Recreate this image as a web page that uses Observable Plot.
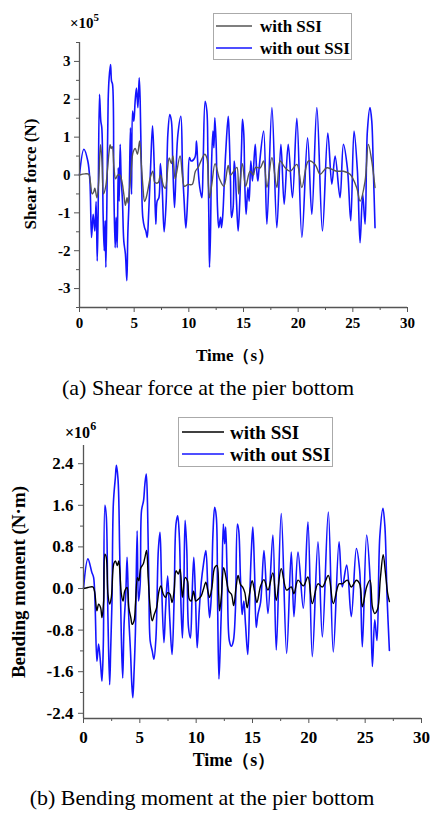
<!DOCTYPE html>
<html><head><meta charset="utf-8">
<script src="https://cdn.jsdelivr.net/npm/d3@7"></script>
<script src="https://cdn.jsdelivr.net/npm/@observablehq/plot@0.6"></script>
<style>
body{margin:0;background:#fff;}
#root{position:relative;width:432px;height:814px;overflow:hidden;font-family:"Liberation Serif","Times New Roman",serif;color:#000;}
.abs{position:absolute;white-space:nowrap;line-height:1;}
.ctr{transform:translate(-50%,-50%);}
.rot{transform:translate(-50%,-50%) rotate(-90deg);}
svg.plt{position:absolute;left:0;}
</style></head><body><div id="root"></div>
<script>
// ---------- Panel (a): shear force (×10^5 N) ----------
const tBlueA=[0,0.4,0.76,0.95,1.1,1.25,1.4,1.52,1.62,1.7,1.83,1.95,2.04,2.16,2.26,2.35,2.41,2.5,2.62,2.71,2.84,2.93,3.02,3.14,3.26,3.35,3.45,3.54,3.63,3.72,3.81,3.93,4.05,4.2,4.33,4.42,4.54,4.66,4.76,4.85,4.97,5.09,5.21,5.34,5.46,5.55,5.67,5.79,5.95,6.07,6.19,6.31,6.5,6.68,6.83,6.98,7.1,7.26,7.4,7.56,7.74,7.93,8.08,8.26,8.41,8.54,8.69,8.84,9.0,9.27,9.42,9.57,9.73,9.91,10.06,10.21,10.55,10.7,10.82,11.0,11.19,11.3,11.49,11.65,11.74,11.83,11.89,11.98,12.07,12.2,12.29,12.38,12.5,12.62,12.74,12.9,12.99,13.11,13.26,13.38,13.6,13.69,13.81,13.9,14.05,14.15,14.24,14.36,14.51,14.66,14.82,14.91,15.03,15.12,15.24,15.4,15.52,15.67,15.82,16.07,16.19,16.31,16.43,16.84,17.14,17.6,18.05,18.42,18.72,19.09,19.48,19.88,20.34,20.86,21.25,21.71,22.22,22.71,23.08,23.38,23.83,24.14,24.5,24.81,25.11,25.42,25.66,25.9,26.12,26.33,26.57,26.73,26.88,27.03];
const vBlueA=[0,0.68,0.37,-0.16,-1.65,-1.04,-1.48,-0.7,-2.27,-1.1,2.13,1.42,1.25,-1.04,-2.0,-1.2,-2.44,-0.86,1.95,2.57,2.92,2.48,2.4,-0.33,-1.92,-1.12,-1.92,0.19,-0.69,0.81,-0.07,-0.69,-1.74,-2.09,-2.79,-1.56,-0.6,1.25,-0.51,1.69,1.42,1.95,2.3,1.78,2.57,1.95,0.02,-1.12,-1.39,-1.48,-1.65,-1.12,0.19,1.3,0.28,-1.3,-0.69,-0.6,0.3,-0.33,-1.5,-0.69,1.07,1.6,1.42,0.19,-0.86,0.19,1.07,1.55,0.19,-0.69,-1.4,-0.51,0.46,0.37,0.46,0.9,0.28,-0.33,-0.6,0.19,1.95,1.69,0.63,-1.12,-2.44,-1.56,0.19,1.16,0.72,1.51,0.81,-0.86,-1.39,-1.12,-1.39,-1.04,-0.07,0.63,1.55,1.07,-0.16,-1.12,-0.86,0.37,0.1,-0.69,-1.48,-0.69,0.72,1.47,1.07,-0.25,-1.04,-0.33,-0.69,0.37,-0.16,0.81,0.19,-0.16,0.19,1.16,-1.3,1.78,-1.39,0.81,-0.77,0.81,-0.6,1.5,-1.65,0.98,-1.04,1.78,-1.48,1.11,-0.24,0.5,-0.6,0.81,0.19,-1.21,1.16,0.1,-1.79,-0.5,-1.3,1.16,1.78,1.43,0.1,-1.39];
const tGrayA=[0,0.5,0.85,1.0,1.16,1.3,1.4,1.6,1.75,1.92,2.05,2.2,2.4,2.55,2.7,2.8,2.9,3.0,3.15,3.3,3.5,3.7,3.9,4.05,4.2,4.35,4.45,4.6,4.75,4.9,5.1,5.3,5.5,5.65,5.8,5.95,6.1,6.25,6.45,6.7,6.9,7.2,7.4,7.7,7.85,8.2,8.4,8.55,8.75,9.2,9.6,9.9,10.3,10.6,10.85,11.45,11.65,11.8,11.9,12.1,12.4,12.8,13.2,13.6,13.8,14.1,14.4,14.56,14.9,15.2,15.6,15.9,16.1,16.53,16.84,17.14,17.6,18.05,18.35,18.81,19.27,19.88,20.34,20.94,21.55,22.01,22.62,23.53,24.14,24.75,25.35,25.66,26.12,26.42,26.73,27.03];
const vGrayA=[0,0.03,0.02,-0.2,-0.5,-0.45,-0.35,-0.6,-0.2,0.8,0.4,-0.5,-0.3,0.1,0.6,0.8,0.7,0.75,0.2,-0.1,0.0,0.0,-0.2,-0.5,-0.8,-0.6,-0.75,-0.3,0.2,0.6,0.7,0.55,0.9,0.3,-0.3,-0.7,-0.6,-0.4,-0.1,0.1,-0.2,-0.2,0.0,-0.3,-0.35,0.45,0.3,0.5,-0.1,0.5,-0.3,-0.25,-0.25,0.1,0.2,0.55,0.45,-0.3,-0.6,-0.25,0.3,-0.1,-0.3,0.25,0.0,0.1,0.2,-0.5,0.3,-0.3,0.1,0.0,0.2,0.19,0.37,-0.33,0.46,-0.33,0.37,0.19,0.1,0.28,-0.33,0.37,0.28,0.02,0.19,0.1,0.1,0.02,-0.33,-0.69,-0.16,0.81,0.37,-0.33];
const yTicksA=[-3,-2,-1,0,1,2,3];
const yMinorA=[-3.5,-2.5,-1.5,-0.5,0.5,1.5,2.5,3.5];

// ---------- Panel (b): bending moment (×10^6 N·m) ----------
const tBlueB=[0,0.39,0.74,0.9,1.19,1.34,1.52,1.64,1.76,1.9,2.02,2.17,2.32,2.41,2.53,2.65,2.83,2.92,3.07,3.21,3.36,3.48,3.6,3.75,3.87,4.02,4.17,4.29,4.38,4.49,4.61,4.76,4.88,5.03,5.15,5.33,5.45,5.57,5.68,5.8,5.92,6.1,6.25,6.43,6.64,6.79,6.93,7.14,7.29,7.47,7.65,7.86,8.04,8.21,8.36,8.51,8.66,8.78,8.9,9.02,9.17,9.32,9.49,9.64,9.79,9.94,10.09,10.27,10.45,10.65,10.86,11.04,11.19,11.34,11.49,11.64,11.79,11.9,12.02,12.14,12.26,12.41,12.53,12.62,12.77,12.95,13.13,13.3,13.48,13.66,13.78,13.93,14.08,14.23,14.38,14.58,14.76,14.9,15.03,15.18,15.33,15.48,15.72,16.02,16.37,16.81,17.11,17.55,18.03,18.44,18.68,19.04,19.51,19.92,20.31,20.81,21.2,21.73,22.17,22.68,22.97,23.36,23.77,24.22,24.51,24.75,25.13,25.43,25.64,25.85,26.05,26.3,26.58,26.75,26.95,27.15];
const vBlueB=[0,0.57,0.31,0.21,-1.4,-1.07,-1.46,-1.78,-1.07,1.6,1.4,-0.56,-1.85,-1.2,-0.24,1.63,2.14,2.37,2.08,0.73,-0.95,-1.72,-0.69,-0.11,0.6,-0.56,-1.2,-1.85,-2.1,-1.59,-0.82,1.11,-0.24,0.08,1.5,1.69,2.01,2.2,1.63,0.08,-1.01,-1.2,-1.36,-0.95,0.73,1.08,0.08,-1.04,-0.37,0.24,-0.56,-1.27,-0.24,1.24,1.4,0.98,-0.37,-0.95,-0.05,1.31,0.73,-0.75,-0.95,-0.11,0.6,-0.17,-1.14,-0.43,0.11,0.47,0.73,-0.05,-0.56,-0.17,1.05,1.56,1.37,-0.24,-1.74,-1.1,-0.24,1.24,0.86,1.18,0.08,-1.01,-1.11,-1.01,-0.43,1.24,1.11,0.21,-0.5,-0.24,-0.69,-1.27,-0.11,0.73,1.18,0.34,-0.75,-0.5,-0.26,0.73,-0.48,1.03,-1.18,1.44,-1.25,0.7,-0.54,0.7,-0.38,1.28,-1.31,0.9,-0.93,1.47,-1.22,0.9,0.03,0.45,-0.54,0.77,0.35,-1.12,1.03,0.22,-1.5,-0.6,-1.0,1.0,1.54,1.2,-0.2,-1.19];
const tBlackB=[0,0.39,0.83,0.98,1.19,1.34,1.52,1.64,1.79,1.9,2.02,2.17,2.32,2.47,2.68,2.83,3.01,3.13,3.24,3.36,3.51,3.66,3.87,4.02,4.2,4.32,4.49,4.61,4.79,4.91,5.09,5.3,5.45,5.6,5.74,5.92,6.1,6.28,6.49,6.7,6.87,7.08,7.29,7.47,7.68,7.86,8.04,8.21,8.42,8.57,8.78,9.02,9.23,9.38,9.56,9.77,9.97,10.21,10.45,10.65,10.86,11.04,11.19,11.4,11.64,11.85,12.0,12.08,12.23,12.44,12.65,12.89,13.13,13.33,13.54,13.72,13.93,14.14,14.32,14.53,14.73,14.97,15.18,15.39,15.72,16.02,16.37,16.81,17.11,17.55,18.03,18.44,18.68,19.04,19.51,19.92,20.31,20.81,21.2,21.73,22.17,22.68,22.97,23.42,23.77,24.22,24.51,24.75,25.13,25.43,25.64,25.84,26.1,26.35,26.6,26.8,27.0,27.15];
const vBlackB=[0,0.02,0.03,-0.05,-0.43,-0.3,-0.37,-0.56,-0.24,0.66,0.6,-0.11,-0.3,-0.17,0.47,0.53,0.44,0.53,0.28,-0.11,-0.24,-0.05,0.02,-0.37,-0.56,-0.69,-0.62,-0.3,0.21,0.15,0.4,0.47,0.6,0.73,0.21,-0.37,-0.62,-0.5,-0.37,-0.05,0.05,-0.11,-0.17,-0.08,-0.11,-0.27,-0.05,0.34,0.28,0.37,-0.17,0.21,0.15,-0.2,-0.24,-0.05,-0.24,-0.2,-0.14,-0.01,0.12,-0.05,-0.17,0.02,0.4,0.44,-0.11,-0.43,-0.17,0.4,0.21,-0.05,-0.11,-0.33,0.02,0.25,0.08,0.02,-0.08,-0.37,-0.11,0.15,-0.05,-0.27,0.05,0.17,-0.03,0.3,-0.23,0.38,-0.03,0.03,-0.1,0.16,0.05,0.22,-0.29,0.09,0.03,0.25,-0.29,0.09,0.09,0.16,0.03,0.16,0.09,-0.35,0.03,0.16,-0.35,-0.48,-0.4,0.2,0.65,0.3,-0.1,-0.25];
const yTicksB=[-2.4,-1.6,-0.8,0,0.8,1.6,2.4];
const yMinorB=[-2.0,-1.2,-0.4,0.4,1.2,2.0];

const xTicks=[0,5,10,15,20,25,30];
const xMinor=[2.5,7.5,12.5,17.5,22.5,27.5];
const seriesNames=["with SSI","with out SSI"];

const BLUE="#1414ff";
const FONT="'Liberation Serif','Times New Roman',serif";
const root=document.getElementById("root");
const rows=(ts,vs)=>ts.map((t,i)=>({t,v:vs[i]}));
const NS="http://www.w3.org/2000/svg";

function panel(o){
  const ax={fontFamily:FONT,fontWeight:"bold",fontSize:o.fs,stroke:"#555",fill:"#000",label:null};
  const svg=Plot.plot({
    width:432,height:o.height,
    marginLeft:o.ml,marginRight:o.mr,marginTop:o.mt,marginBottom:o.mb,
    x:{domain:[0,30]},
    y:{domain:o.ydom},
    style:{fontFamily:FONT,fontWeight:"bold",fontSize:o.fs+"px",background:"transparent",color:"#000"},
    marks:[
      Plot.line(rows(o.tb,o.vb),{x:"t",y:"v",stroke:BLUE,strokeWidth:1.6,curve:"catmull-rom"}),
      Plot.line(rows(o.tk,o.vk),{x:"t",y:"v",stroke:o.kcol,strokeWidth:1.4,curve:"catmull-rom"}),
      Plot.ruleX([0],{stroke:"#555",strokeWidth:1.3}),
      Plot.ruleY([o.ydom[0]],{stroke:"#555",strokeWidth:1.3}),
      Plot.axisY({...ax,ticks:o.yticks,tickFormat:o.yfmt,tickSize:5,tickPadding:o.ypad}),
      Plot.axisY({...ax,ticks:o.yminor,tickFormat:()=>"",tickSize:3}),
      Plot.axisX({...ax,ticks:xTicks,tickFormat:d=>String(d),tickSize:5,tickPadding:o.xpad}),
      Plot.axisX({...ax,ticks:xMinor,tickFormat:()=>"",tickSize:3})
    ]
  });
  svg.classList.add("plt");
  svg.style.top=o.top+"px";
  root.appendChild(svg);
}
function txt(html,x,y,cls,css){
  const d=document.createElement("div");
  d.className="abs "+cls;d.innerHTML=html;
  d.style.left=x+"px";d.style.top=y+"px";
  Object.assign(d.style,css||{});
  root.appendChild(d);return d;
}
function el(tag,attrs,parent){
  const e=document.createElementNS(NS,tag);
  for(const k in attrs)e.setAttribute(k,attrs[k]);
  parent.appendChild(e);return e;
}
// legend drawn as its own small svg; positions relative to the box
function legend(x,y,w,h,fs,rowY,lineX,lineW,textX,kcol){
  const s=document.createElementNS(NS,"svg");
  s.setAttribute("width",w);s.setAttribute("height",h);
  Object.assign(s.style,{position:"absolute",left:x+"px",top:y+"px"});
  el("rect",{x:0.5,y:0.5,width:w-1,height:h-1,fill:"#fff",stroke:"#aaa","stroke-width":1},s);
  const cols=[kcol,BLUE];
  seriesNames.forEach((name,i)=>{
    el("line",{x1:lineX,x2:lineX+lineW,y1:rowY[i],y2:rowY[i],stroke:cols[i],"stroke-width":1.5},s);
    const t=el("text",{x:textX,y:rowY[i],dy:"0.35em","font-family":FONT,"font-weight":"bold","font-size":fs,fill:"#000"},s);
    t.textContent=name;
  });
  root.appendChild(s);
}

// panel (a)
panel({top:0,height:340,ml:79,mr:25,mt:42,mb:33,ydom:[-3.5,3.5],yticks:yTicksA,yminor:yMinorA,
  yfmt:d=>String(d),fs:15,ypad:4,xpad:5,tb:tBlueA,vb:vBlueA,tk:tGrayA,vk:vGrayA,kcol:"#555"});
legend(213,13,139,47,17,[13,35],3,36,47,"#555");
txt("×10<sup style='font-size:11px;vertical-align:7px'>5</sup>",70,12,"",{fontSize:"15px",fontWeight:"bold"});
txt("Shear force (N)",30,174,"rot",{fontWeight:"bold",fontSize:"17px"});
txt("Time（s）",235,355,"ctr",{fontWeight:"bold",fontSize:"17px"});
txt("(a) Shear force at the pier bottom",208,388,"ctr",{fontSize:"22px"});

// panel (b)
panel({top:400,height:350,ml:83,mr:11,mt:45,mb:32,ydom:[-2.5,2.75],yticks:yTicksB,yminor:yMinorB,
  yfmt:d=>d.toFixed(1),fs:17,ypad:5,xpad:7,tb:tBlueB,vb:vBlueB,tk:tBlackB,vk:vBlackB,kcol:"#000"});
legend(178,417,155,50,19,[15,37],4,42,52,"#000");
txt("×10<sup style='font-size:12px;vertical-align:8px'>6</sup>",65,420,"",{fontSize:"16px",fontWeight:"bold"});
txt("Bending moment (N·m)",17.5,582,"rot",{fontWeight:"bold",fontSize:"19px"});
txt("Time（s）",234,760,"ctr",{fontWeight:"bold",fontSize:"18px"});
txt("(b) Bending moment at the pier bottom",202,798,"ctr",{fontSize:"22px"});
</script></body></html>
